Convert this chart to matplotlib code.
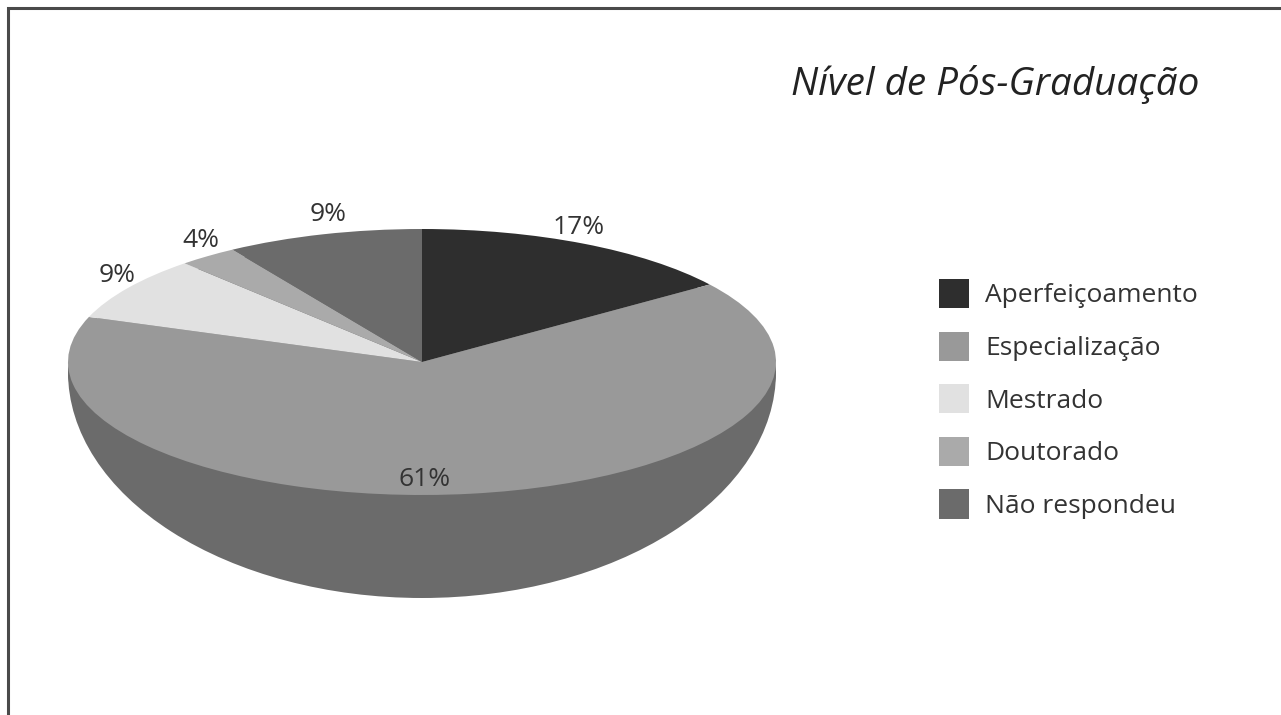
import matplotlib
matplotlib.use("Agg")
import matplotlib.pyplot as plt

W, H = 1281, 715

categorias = ['Aperfeiçoamento', 'Especialização', 'Mestrado', 'Doutorado', 'Não respondeu']
# percentuais impressos no grafico
rotulos = ['17%', '61%', '9%', '4%', '9%']
# tamanho aparente das fatias, medido na figura (a perspectiva distorce os angulos)
fatias = [15.1, 65.4, 7.8, 2.7, 9.0]
cores = ['#2e2e2e', '#999999', '#e1e1e1', '#aaaaaa', '#6b6b6b']
cor_lateral = '#6b6b6b'
metades = [50, 50]

plt.rcParams['font.family'] = ['Open Sans', 'DejaVu Sans']


def eixo_px(fig, x0, y0, x1, y1):
    # eixo posicionado em pixels, com y contado do topo
    return fig.add_axes([x0 / W, 1 - y1 / H, (x1 - x0) / W, (y1 - y0) / H])


def tx(x):
    return x / W


def ty(y):
    return 1 - y / H


fig = plt.figure(figsize=(W / 100, H / 100), dpi=100)

# contorno da pagina
fig.add_artist(plt.Line2D([tx(7.5), tx(7.5), 1], [0, ty(8), ty(8)], color='#4a4a4a', lw=2.2,
                          solid_joinstyle='miter'))

# parte de baixo, em forma de cuba
ax_base = eixo_px(fig, 68, 372 - 226, 776, 372 + 226)
ax_base.pie(metades, colors=[cor_lateral, 'none'], startangle=180, radius=1, counterclock=True)
ax_base.set_aspect('auto')
ax_base.set_xlim(-1, 1)
ax_base.set_ylim(-1, 1)

# pequena faixa lateral entre o tampo e a cuba
ax_topo_lat = eixo_px(fig, 68, 372 - 133, 776, 372 + 133)
ax_topo_lat.pie([1], colors=[cor_lateral], radius=1)
ax_topo_lat.set_aspect('auto')
ax_topo_lat.set_xlim(-1, 1)
ax_topo_lat.set_ylim(-1, 1)

# tampo
ax = eixo_px(fig, 68, 362 - 133, 776, 362 + 133)
fatias_pie, _ = ax.pie(fatias, colors=cores, startangle=90, counterclock=False, radius=1)
ax.set_aspect('auto')
ax.set_xlim(-1, 1)
ax.set_ylim(-1, 1)

# rotulos de percentual
pos_rotulos = [(579, 227), (425, 480), (117, 275), (201, 241), (328, 215)]
for r, (x, y) in zip(rotulos, pos_rotulos):
    fig.text(tx(x), ty(y), r, fontsize=19, color='#333333', ha='center', va='center')

fig.text(tx(791), ty(84), 'Nível de Pós-Graduação', fontsize=27.8, style='italic', color='#222222',
         ha='left', va='center')

leg = fig.legend(fatias_pie, categorias, loc='upper left', bbox_to_anchor=(tx(939), ty(279)),
                 frameon=False, fontsize=19, handlelength=1.14, handleheight=1.32,
                 handletextpad=0.6, labelspacing=0.88, borderpad=0, borderaxespad=0,
                 labelcolor='#333333')

plt.savefig('out.png', dpi=100)
